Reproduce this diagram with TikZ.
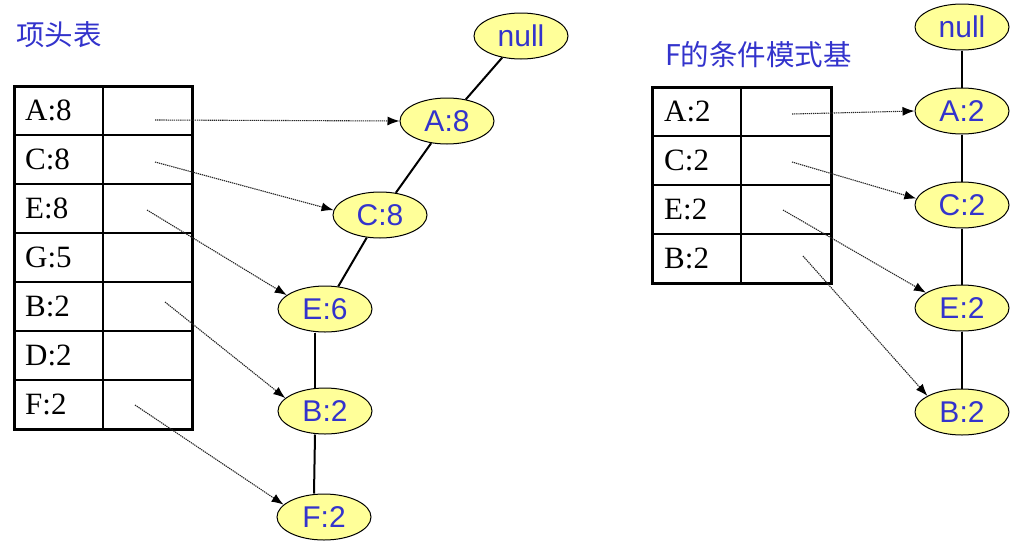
\documentclass[tikz,border=0pt]{standalone}
\usepackage{fontspec}
\setmainfont{Liberation Serif}
\newfontfamily\arialf{Liberation Sans}
\newfontfamily\cjkf{Noto Sans CJK SC}
\usetikzlibrary{shapes.geometric,arrows.meta}
\definecolor{tblue}{RGB}{51,51,204}
\definecolor{nodey}{RGB}{255,255,153}
\begin{document}
\begin{tikzpicture}[x=1pt,y=-1pt,
  fpnode/.style={ellipse,draw=black,line width=1pt,fill=nodey,minimum width=94pt,minimum height=46pt,inner sep=0pt,text=tblue,font=\arialf\fontsize{30}{30}\selectfont},
  tlabel/.style={anchor=west,inner sep=0pt,font=\fontsize{31}{31}\selectfont},
  title/.style={anchor=west,inner sep=0pt,text=tblue,font=\cjkf\fontsize{28.5}{28.5}\selectfont},
  outer/.style={line width=3pt},
  inner/.style={line width=1.5pt},
  edge/.style={line width=2pt},
  ptr/.style={line width=1.1pt,draw=black!85,dash pattern=on 1.3pt off 0.8pt,-{Latex[length=12pt,width=9pt,black]}}
]
\useasboundingbox (0,0) rectangle (1011,549);
% titles
\node[title] (t1) at (16,35) {项头表};
\node[title] (t2) at (665,55) {F的条件模式基};
% left table
\foreach \y in {135,184,233,282,331,380} \draw[inner] (14,\y) -- (192,\y);
\draw[inner] (103,86) -- (103,429);
\draw[outer] (14,86) rectangle (192,429);
\foreach \lab/\y in {A:8/110.5, C:8/159.5, E:8/208.5, G:5/257.5, B:2/306.5, D:2/355.5, F:2/404.5}
  \node[tlabel] (L-\lab) at (25,\y) {\lab};
% right table
\foreach \y in {136,185,234} \draw[inner] (652,\y) -- (831,\y);
\draw[inner] (741,87) -- (741,283);
\draw[outer] (652,87) rectangle (831,283);
\foreach \lab/\y in {A:2/111.5, C:2/160.5, E:2/209.5, B:2/258.5}
  \node[tlabel] (R-\lab) at (664,\y) {\lab};
% left tree
\node[fpnode] (null1) at (521,36) {null};
\node[fpnode] (A8) at (447,121) {A:8};
\node[fpnode] (C8) at (380,215) {C:8};
\node[fpnode] (E6) at (325,309) {E:6};
\node[fpnode] (B2) at (325,411) {B:2};
\node[fpnode] (F2) at (324,517) {F:2};
\draw[edge] (null1) -- (A8);
\draw[edge] (A8) -- (C8);
\draw[edge] (C8) -- (E6);
\draw[edge] ([xshift=-10pt]E6.south) -- ([xshift=-10pt]B2.north);
\draw[edge] ([xshift=-10pt]B2.south) -- ([xshift=-10pt]F2.north);
% right tree
\node[fpnode] (null2) at (962,27) {null};
\node[fpnode] (A2) at (962,111) {A:2};
\node[fpnode] (C2) at (962,205) {C:2};
\node[fpnode] (E2) at (962,308) {E:2};
\node[fpnode] (B2r) at (962,412) {B:2};
\draw[edge] (null2) -- (A2);
\draw[edge] (A2) -- (C2);
\draw[edge] (C2) -- (E2);
\draw[edge] (E2) -- (B2r);
% pointer start points
\coordinate (pA) at (155,120);
\coordinate (pC) at (155,162);
\coordinate (pE) at (147,210);
\coordinate (pB) at (165,302);
\coordinate (pF) at (135,405);
\coordinate (qA) at (792,114);
\coordinate (qC) at (792,162);
\coordinate (qE) at (783,210);
\coordinate (qB) at (803,256);
% pointers
\draw[ptr] (pA) -- (A8.west);
\draw[ptr] (pC) -- (C8.174);
\draw[ptr] (pE) -- (E6.160);
\draw[ptr] (pB) -- (B2.162);
\draw[ptr] (pF) -- (F2.163);
\draw[ptr] (qA) -- (A2.west);
\draw[ptr] (qC) -- (C2.172);
\draw[ptr] (qE) -- (E2.157);
\draw[ptr] (qB) -- (B2r.155);
\end{tikzpicture}
\end{document}
